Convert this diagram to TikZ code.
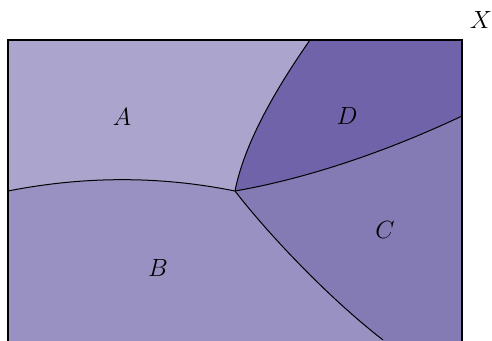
\documentclass[tikz,border=0pt]{standalone}
\usepackage{xcolor}
\definecolor{colA}{RGB}{171,165,205}
\definecolor{colB}{RGB}{152,145,194}
\definecolor{colC}{RGB}{132,122,180}
\definecolor{colD}{RGB}{112,99,170}
\begin{document}
\begin{tikzpicture}[x=1pt,y=-1pt,
  lab/.style={inner sep=0pt,font=\fontsize{26}{30}\selectfont},
  border/.style={line width=1.5pt,draw=black},
  edge/.style={line width=1pt,draw=black}]
\useasboundingbox (0,0) rectangle (492,340);
\clip (0,0) rectangle (492,340);
\coordinate (O) at (235,191);
\coordinate (L) at (8,191);
\coordinate (T) at (310,40);
\coordinate (R) at (462,116);
\coordinate (Bt) at (383,340);
% background B
\fill[colB] (8,40) rectangle (462,345);
% A
\fill[colA] (8,40) -- (T) .. controls (268,100) and (243,150) .. (O)
  .. controls (160.3,175.9) and (84.7,175.9) .. (L) -- cycle;
% D
\fill[colD] (T) -- (462,40) -- (R) .. controls (390,150) and (310,178) .. (O)
  .. controls (243,150) and (268,100) .. (T) -- cycle;
% C
\fill[colC] (O) .. controls (310,178) and (390,150) .. (R) -- (462,345) -- (386,345) -- (Bt)
  .. controls (325,295) and (265,230) .. (O) -- cycle;
% edges
\draw[edge] (L) .. controls (84.7,175.9) and (160.3,175.9) .. (O);
\draw[edge] (O) .. controls (243,150) and (268,100) .. (T);
\draw[edge] (O) .. controls (310,178) and (390,150) .. (R);
\draw[edge] (O) .. controls (265,230) and (325,295) .. (Bt);
% border
\draw[border] (8,345) -- (8,40) -- (462,40) -- (462,345);
% labels
\node[lab] (a) at (122,117) {$A$};
\node[lab] (b) at (158,268) {$B$};
\node[lab] (c) at (385,230) {$C$};
\node[lab] (d) at (347,116) {$D$};
\node[lab] (x) at (481,20) {$X$};
\end{tikzpicture}
\end{document}
